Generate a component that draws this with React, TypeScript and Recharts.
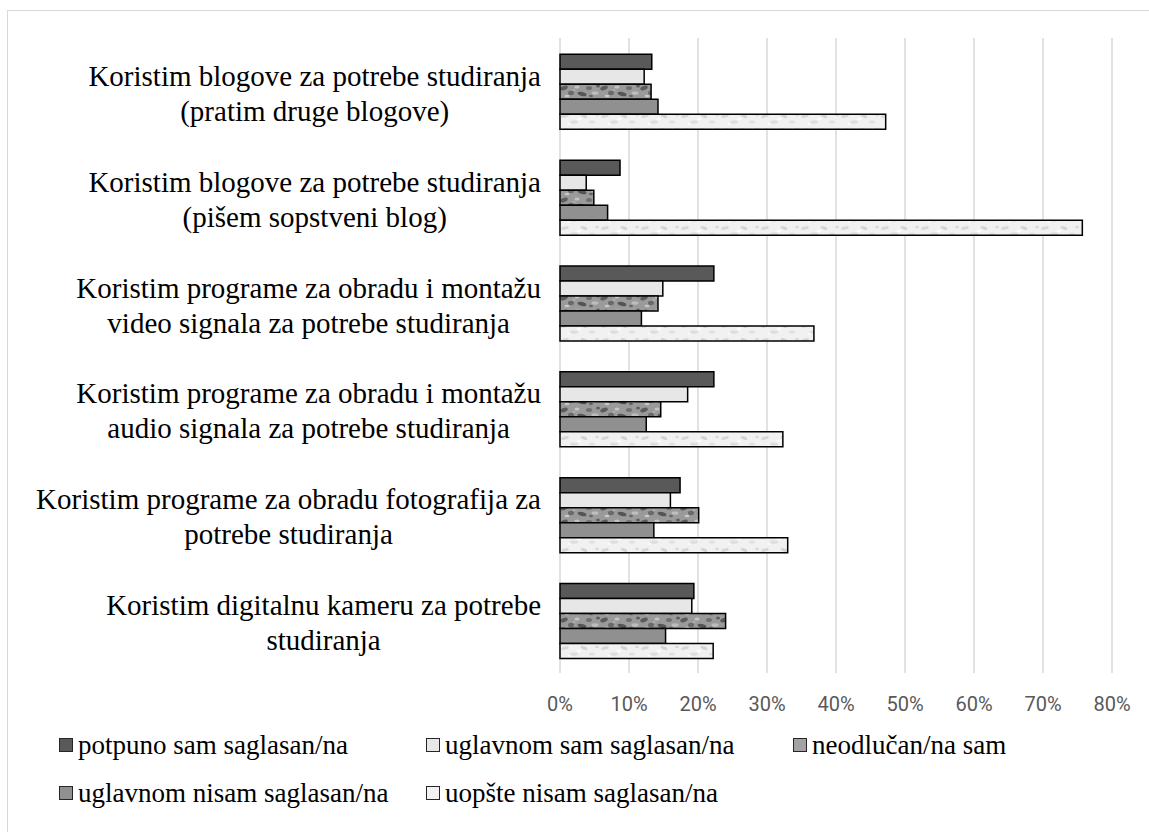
import { BarChart, Bar, XAxis, YAxis, CartesianGrid, Legend } from "recharts";

// category labels, "\n" marks the line break used in the original
const categories = [
	"Koristim blogove za potrebe studiranja\n(pratim druge blogove)",
	"Koristim blogove za potrebe studiranja\n(pišem sopstveni blog)",
	"Koristim programe za obradu i montažu\nvideo signala za potrebe studiranja",
	"Koristim programe za obradu i montažu\naudio signala za potrebe studiranja",
	"Koristim programe za obradu fotografija za\npotrebe studiranja",
	"Koristim digitalnu kameru za potrebe\nstudiranja",
];

const seriesNames = [
	"potpuno sam saglasan/na",
	"uglavnom sam saglasan/na",
	"neodlučan/na sam",
	"uglavnom nisam saglasan/na",
	"uopšte nisam saglasan/na",
];

// percentages per category (top to bottom)
const potpuno = [13.3, 8.7, 22.3, 22.3, 17.4, 19.4];
const uglavnomSam = [12.2, 3.8, 14.9, 18.5, 16.0, 19.1];
const neodlucan = [13.2, 4.9, 14.2, 14.6, 20.1, 24.0];
const uglavnomNisam = [14.2, 6.9, 11.8, 12.5, 13.6, 15.3];
const uopste = [47.2, 75.7, 36.8, 32.3, 33.0, 22.2];

const xTicks = [0, 10, 20, 30, 40, 50, 60, 70, 80];

const seriesValues = [potpuno, uglavnomSam, neodlucan, uglavnomNisam, uopste];
const seriesFills = ["#595959", "#e7e7e7", "url(#mottledDark)", "#909090", "url(#mottledLight)"];
const legendFills = ["#595959", "#e7e7e7", "#a3a3a3", "#909090", "#f2f2f2"];

const data = categories.map((name, i) => {
	const row: Record<string, string | number> = { name };
	seriesValues.forEach((vals, s) => {
		row["s" + s] = vals[i];
	});
	return row;
});

const SERIF = "'Liberation Serif', 'Times New Roman', serif";
const LABEL_SIZE = 29;

let measureCtx: CanvasRenderingContext2D | null = null;
function textWidth(s: string) {
	if (!measureCtx) measureCtx = document.createElement("canvas").getContext("2d");
	if (!measureCtx) return s.length * 12;
	measureCtx.font = `${LABEL_SIZE}px 'Liberation Serif'`;
	return measureCtx.measureText(s).width;
}

// two-line label, lines centred on each other, block right-aligned to the axis
function CategoryTick({ x, y, payload }: any) {
	const lines = String(payload.value).split("\n");
	const w = Math.max(...lines.map(textWidth));
	const cx = x - w / 2;
	return (
		<text x={cx} y={y} textAnchor="middle" style={{ fontFamily: SERIF }} fontSize={LABEL_SIZE} fill="#000">
			{lines.map((l, i) => (
				<tspan key={i} x={cx} y={y - 5 + i * 35}>
					{l}
				</tspan>
			))}
		</text>
	);
}

function LegendContent() {
	return (
		<div style={{ position: "relative", width: 1149, height: 100, fontFamily: SERIF, fontSize: 27, color: "#000" }}>
			{seriesNames.map((n, i) => {
				const col = i % 3;
				const row = Math.floor(i / 3);
				return (
					<div
						key={n}
						style={{
							position: "absolute",
							left: 59 + col * 367,
							top: 16 + row * 48,
							height: 32,
							lineHeight: "32px",
							display: "flex",
							alignItems: "center",
							whiteSpace: "nowrap",
						}}
					>
						<span
							style={{
								display: "inline-block",
								width: 14,
								height: 14,
								boxSizing: "border-box",
								border: "1.5px solid #262626",
								background: legendFills[i],
								marginRight: 5,
							}}
						/>
						{n}
					</div>
				);
			})}
		</div>
	);
}

export default function App() {
	return (
		<div style={{ position: "absolute", left: 0, top: 0, width: 1149, height: 832, background: "#fff", overflow: "hidden" }}>
			<div
				style={{
					position: "absolute",
					left: 7,
					top: 10,
					width: 1142,
					height: 822,
					borderTop: "1.5px solid #d9d9d9",
					borderLeft: "1.5px solid #d9d9d9",
				}}
			/>
			<BarChart
				width={1149}
				height={832}
				data={data}
				layout="vertical"
				margin={{ top: 38, right: 37, bottom: 19, left: 0 }}
				barCategoryGap="15.4%"
				barGap={0}
			>
				<defs>
					{/* granite-like texture for "neodlučan/na sam" */}
					<pattern id="mottledDark" width="40" height="14" patternUnits="userSpaceOnUse">
						<rect width="40" height="14" fill="#9a9a9a" />
						<ellipse cx="4" cy="4" rx="4" ry="2" fill="#5c5c5c" transform="rotate(-20 4 4)" />
						<ellipse cx="11" cy="9" rx="3" ry="2.2" fill="#6a6a6a" />
						<ellipse cx="17" cy="3" rx="2.5" ry="1.6" fill="#c4c4c4" />
						<ellipse cx="22" cy="10" rx="4.5" ry="2" fill="#555" transform="rotate(15 22 10)" />
						<ellipse cx="29" cy="4" rx="3" ry="2" fill="#707070" />
						<ellipse cx="35" cy="9" rx="3.5" ry="1.8" fill="#bdbdbd" />
						<ellipse cx="38" cy="2" rx="2" ry="1.5" fill="#606060" />
						<ellipse cx="7" cy="12" rx="2.5" ry="1.3" fill="#c8c8c8" />
						<ellipse cx="31" cy="12" rx="2" ry="1.2" fill="#656565" />
						<ellipse cx="14" cy="6" rx="1.5" ry="1" fill="#b0b0b0" />
					</pattern>
					{/* pale texture for "uopšte nisam saglasan/na" */}
					<pattern id="mottledLight" width="40" height="14" patternUnits="userSpaceOnUse">
						<rect width="40" height="14" fill="#f1f1f1" />
						<ellipse cx="5" cy="4" rx="4" ry="1.6" fill="#d8d8d8" transform="rotate(-15 5 4)" />
						<ellipse cx="14" cy="10" rx="4" ry="1.8" fill="#dedede" />
						<ellipse cx="24" cy="4" rx="3.5" ry="1.5" fill="#d4d4d4" transform="rotate(20 24 4)" />
						<ellipse cx="32" cy="10" rx="3" ry="1.5" fill="#e0e0e0" />
						<ellipse cx="19" cy="7" rx="2.5" ry="1.2" fill="#fcfcfc" />
						<ellipse cx="37" cy="3" rx="2" ry="1.2" fill="#dadada" />
						<ellipse cx="9" cy="12" rx="2" ry="1" fill="#fafafa" />
					</pattern>
				</defs>
				<CartesianGrid horizontal={false} stroke="#d9d9d9" strokeWidth={1.5} />
				<XAxis
					type="number"
					domain={[0, 80]}
					ticks={xTicks}
					interval={0}
					tickFormatter={(v) => `${v}%`}
					axisLine={false}
					tickLine={false}
					tickSize={0}
					tickMargin={24}
					height={40}
					tick={{ fill: "#595959", fontSize: 20, fontFamily: "Roboto" }}
				/>
				<YAxis
					type="category"
					dataKey="name"
					width={560}
					interval={0}
					axisLine={false}
					tickLine={false}
					tickSize={0}
					tickMargin={19}
					tick={<CategoryTick />}
				/>
				<Legend
					verticalAlign="bottom"
					width={1149}
					height={100}
					wrapperStyle={{ left: 0, top: 713, width: 1149, height: 100 }}
					content={<LegendContent />}
				/>
				{seriesNames.map((n, s) => (
					<Bar
						key={n}
						dataKey={"s" + s}
						name={n}
						fill={seriesFills[s]}
						stroke="#000"
						strokeWidth={1.5}
						isAnimationActive={false}
					/>
				))}
			</BarChart>
		</div>
	);
}
